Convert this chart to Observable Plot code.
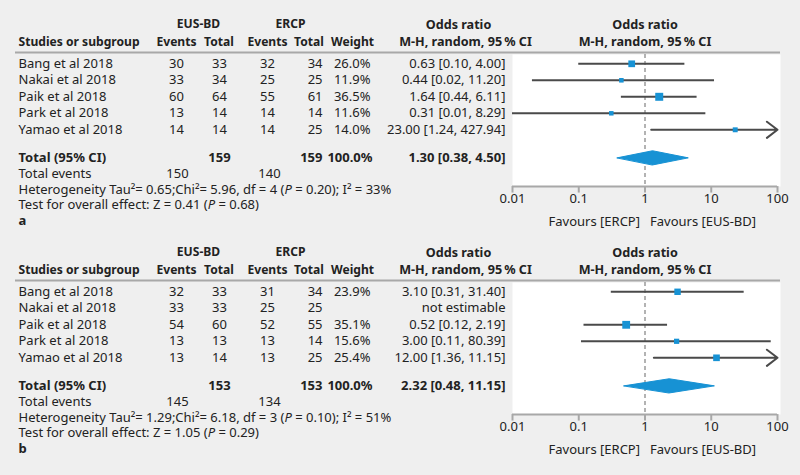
<!DOCTYPE html>
<html>
<head>
<meta charset="utf-8">
<script src="https://cdn.jsdelivr.net/npm/d3@7"></script>
<script src="https://cdn.jsdelivr.net/npm/@observablehq/plot@0.6"></script>
<style>
  html, body { margin: 0; padding: 0; background: #efefef; }
  svg { display: block; }
</style>
</head>
<body>
<div id="a"></div>
<div id="b"></div>
<script>
// ---------- data ----------
const studies = ["Bang et al 2018", "Nakai et al 2018", "Paik et al 2018", "Park et al 2018", "Yamao et al 2018"];
const xTicks = [0.01, 0.1, 1, 10, 100];

// panel a
const aEusEvents  = [30, 33, 60, 13, 14];
const aEusTotal   = [33, 34, 64, 14, 14];
const aErcpEvents = [32, 25, 55, 14, 14];
const aErcpTotal  = [34, 25, 61, 14, 25];
const aWeight     = [26.0, 11.9, 36.5, 11.6, 14.0];
const aOR         = [0.63, 0.44, 1.64, 0.31, 23.00];
const aLo         = [0.10, 0.02, 0.44, 0.01, 1.24];
const aHi         = [4.00, 11.20, 6.11, 8.29, 427.94];
const aCIText     = ["0.63 [0.10, 4.00]", "0.44 [0.02, 11.20]", "1.64 [0.44, 6.11]", "0.31 [0.01, 8.29]", "23.00 [1.24, 427.94]"];
const aTotals     = [159, 159];        // EUS-BD total, ERCP total
const aEvents     = [150, 140];        // EUS-BD events, ERCP events
const aSummary    = [1.30, 0.38, 4.50]; // OR, lower, upper
const aSummaryText = "1.30 [0.38, 4.50]";
const aHet  = "Heterogeneity Tau²= 0.65;Chi²= 5.96, df = 4 (P = 0.20); I² = 33%";
const aTest = "Test for overall effect: Z = 0.41 (P = 0.68)";

// panel b
const bEusEvents  = [32, 33, 54, 13, 13];
const bEusTotal   = [33, 33, 60, 13, 14];
const bErcpEvents = [31, 25, 52, 13, 13];
const bErcpTotal  = [34, 25, 55, 14, 25];
const bWeight     = [23.9, null, 35.1, 15.6, 25.4];
const bOR         = [3.10, null, 0.52, 3.00, 12.00];
const bLo         = [0.31, null, 0.12, 0.11, 1.36];
const bHi         = [31.40, null, 2.19, 80.39, 106.2];
const bCIText     = ["3.10 [0.31, 31.40]", "not estimable", "0.52 [0.12, 2.19]", "3.00 [0.11, 80.39]", "12.00 [1.36, 11.15]"];
const bTotals     = [153, 153];
const bEvents     = [145, 134];
const bSummary    = [2.32, 0.48, 11.15];
const bSummaryText = "2.32 [0.48, 11.15]";
const bHet  = "Heterogeneity Tau²= 1.29;Chi²= 6.18, df = 3 (P = 0.10); I² = 51%";
const bTest = "Test for overall effect: Z = 1.05 (P = 0.29)";

// ---------- drawing ----------
const BLUE = "#1792d4";
const INK = "#222";
const GREY = "#a8a8a8";

function panel(p) {
  const H = p.height, off = p.offset;
  const U = 16.5, Y0 = 63.3 + off;  // row unit (px) and first study row
  const FL = 512;                    // frame left
  const R = {h1: -2.38, h2: -1.32, rule: -0.68, total: 5.70, events: 6.67, het: 7.62,
             test: 8.55, label: 9.5, axis: 7.44, ticks: 8.18, fav: 9.6};
  const rows = studies.map((name, i) => ({
    i, name, ee: p.eusEvents[i], et: p.eusTotal[i], ce: p.ercpEvents[i], ct: p.ercpTotal[i],
    w: p.weight[i], or: p.or[i], lo: p.lo[i], hi: p.hi[i], ci: p.ciText[i]
  }));
  const est = rows.filter(d => d.or != null);
  const col = (px, anchor) => ({frameAnchor: "left", dx: px - FL, textAnchor: anchor});
  const diamond = [
    {x: p.summary[1], y: R.total},
    {x: p.summary[0], y: R.total - 0.43},
    {x: p.summary[2], y: R.total},
    {x: p.summary[0], y: R.total + 0.43}
  ];
  const bold = {fontWeight: "bold"};
  const hd = {fontWeight: "bold", fontSize: 12.1};   // table column headers
  const hdOR = {fontWeight: "bold", fontSize: 12.6}; // odds-ratio headers
  const one = [0];

  const svg = Plot.plot({
    width: 800,
    height: H,
    marginLeft: FL,
    marginRight: 20,
    marginTop: 54 + off,
    marginBottom: H - (186 + off),
    style: {fontFamily: "'Noto Sans', 'Open Sans', sans-serif", fontSize: "13px", background: "none", color: INK, overflow: "visible"},
    x: {type: "log", domain: [0.01, 100], range: [512, 777], axis: null},
    y: {type: "linear", domain: [-Y0 / U, (H - Y0) / U], range: [0, H], axis: null},
    r: {type: "sqrt", domain: [0, 36.5], range: [0, 4.5]},
    marks: [
      Plot.frame({fill: "white", stroke: "none"}),
      Plot.ruleX([1], {stroke: "#9a9a9a", strokeWidth: 1.5, strokeDasharray: "4,3"}),
      Plot.ruleY(est.filter(d => d.hi <= 100), {y: "i", x1: "lo", x2: "hi", stroke: "#4a4a4a", strokeWidth: 2}),
      Plot.arrow(est.filter(d => d.hi > 100), {x1: "lo", x2: () => 100, y1: "i", y2: "i",
        stroke: "#4a4a4a", strokeWidth: 2, headAngle: 75, headLength: 10}),
      Plot.dot(est, {x: "or", y: "i", r: "w", symbol: "square", fill: BLUE}),
      Plot.line(diamond, {x: "x", y: "y", fill: BLUE, stroke: BLUE, strokeWidth: 1, curve: "linear-closed"}),
      // x axis
      Plot.ruleY([R.axis], {x1: 0.01, x2: 100, stroke: GREY, strokeWidth: 2}),
      Plot.ruleX(xTicks, {x: d => d, y1: R.axis, y2: R.axis + 6.5 / U, stroke: GREY, strokeWidth: 2}),
      Plot.text(xTicks, {x: d => d, y: R.ticks, text: d => String(d), fill: INK}),
      Plot.text(one, {x: 1, y: R.fav, text: () => "Favours [ERCP]", dx: -5, textAnchor: "end", fill: INK}),
      Plot.text(one, {x: 1, y: R.fav, text: () => "Favours [EUS-BD]", dx: 5, textAnchor: "start", fill: INK}),
      // header
      Plot.ruleY([R.rule], {stroke: GREY, strokeWidth: 2, insetLeft: 15 - FL}),
      Plot.text(one, {y: R.h1, text: () => "EUS-BD", ...col(198, "middle"), ...hd}),
      Plot.text(one, {y: R.h1, text: () => "ERCP", ...col(290, "middle"), ...hd}),
      Plot.text(one, {y: R.h1, text: () => "Odds ratio", ...col(458, "middle"), ...hdOR}),
      Plot.text(one, {y: R.h1, x: 1, text: () => "Odds ratio", textAnchor: "middle", ...hdOR}),
      Plot.text(one, {y: R.h2, text: () => "Studies or subgroup", ...col(18, "start"), ...hd}),
      Plot.text(one, {y: R.h2, text: () => "Events", ...col(176, "middle"), ...hd}),
      Plot.text(one, {y: R.h2, text: () => "Total", ...col(218.5, "middle"), ...hd}),
      Plot.text(one, {y: R.h2, text: () => "Events", ...col(267, "middle"), ...hd}),
      Plot.text(one, {y: R.h2, text: () => "Total", ...col(308.5, "middle"), ...hd}),
      Plot.text(one, {y: R.h2, text: () => "Weight", ...col(352, "middle"), ...hd}),
      Plot.text(one, {y: R.h2, text: () => "M-H, random, 95\u2009% CI", ...col(465, "middle"), ...hdOR}),
      Plot.text(one, {y: R.h2, x: 1, text: () => "M-H, random, 95\u2009% CI", textAnchor: "middle", ...hdOR}),
      // study rows
      Plot.text(rows, {y: "i", text: "name", ...col(18, "start")}),
      Plot.text(rows, {y: "i", text: "ee", ...col(176, "middle")}),
      Plot.text(rows, {y: "i", text: "et", ...col(219, "middle")}),
      Plot.text(rows, {y: "i", text: "ce", ...col(267, "middle")}),
      Plot.text(rows, {y: "i", text: "ct", ...col(322, "end")}),
      Plot.text(rows, {y: "i", text: d => d.w == null ? "" : d.w.toFixed(1) + "%", ...col(370, "end")}),
      Plot.text(rows, {y: "i", text: "ci", ...col(505, "end")}),
      // totals
      Plot.text(one, {y: R.total, text: () => "Total (95% CI)", ...col(18, "start"), ...bold}),
      Plot.text(one, {y: R.total, text: () => String(p.totals[0]), ...col(219, "middle"), ...bold}),
      Plot.text(one, {y: R.total, text: () => String(p.totals[1]), ...col(322, "end"), ...bold}),
      Plot.text(one, {y: R.total, text: () => "100.0%", ...col(372, "end"), ...bold}),
      Plot.text(one, {y: R.total, text: () => p.summaryText, ...col(505, "end"), ...bold}),
      Plot.text(one, {y: R.events, text: () => "Total events", ...col(18, "start")}),
      Plot.text(one, {y: R.events, text: () => String(p.events[0]), ...col(177, "middle")}),
      Plot.text(one, {y: R.events, text: () => String(p.events[1]), ...col(269, "middle")}),
      Plot.text(one, {y: R.het, text: () => p.het, ...col(18, "start")}),
      Plot.text(one, {y: R.test, text: () => p.test, ...col(18, "start")}),
      Plot.text(one, {y: R.label, text: () => p.label, ...col(18, "start"), ...bold})
    ]
  });
  // italic P in statistics lines
  d3.select(svg).selectAll("text").each(function () {
    const t = this.textContent;
    if (t.includes("(P =")) {
      this.innerHTML = t.replace(/\(P =/g, '(<tspan font-style="italic">P</tspan> =');
    }
  });
  return svg;
}

document.getElementById("a").appendChild(panel({
  height: 232, offset: 0, eusEvents: aEusEvents, eusTotal: aEusTotal, ercpEvents: aErcpEvents, ercpTotal: aErcpTotal,
  weight: aWeight, or: aOR, lo: aLo, hi: aHi, ciText: aCIText, totals: aTotals, events: aEvents,
  summary: aSummary, summaryText: aSummaryText, het: aHet, test: aTest, label: "a"
}));
document.getElementById("b").appendChild(panel({
  height: 243, offset: -4, eusEvents: bEusEvents, eusTotal: bEusTotal, ercpEvents: bErcpEvents, ercpTotal: bErcpTotal,
  weight: bWeight, or: bOR, lo: bLo, hi: bHi, ciText: bCIText, totals: bTotals, events: bEvents,
  summary: bSummary, summaryText: bSummaryText, het: bHet, test: bTest, label: "b"
}));
</script>
</body>
</html>
